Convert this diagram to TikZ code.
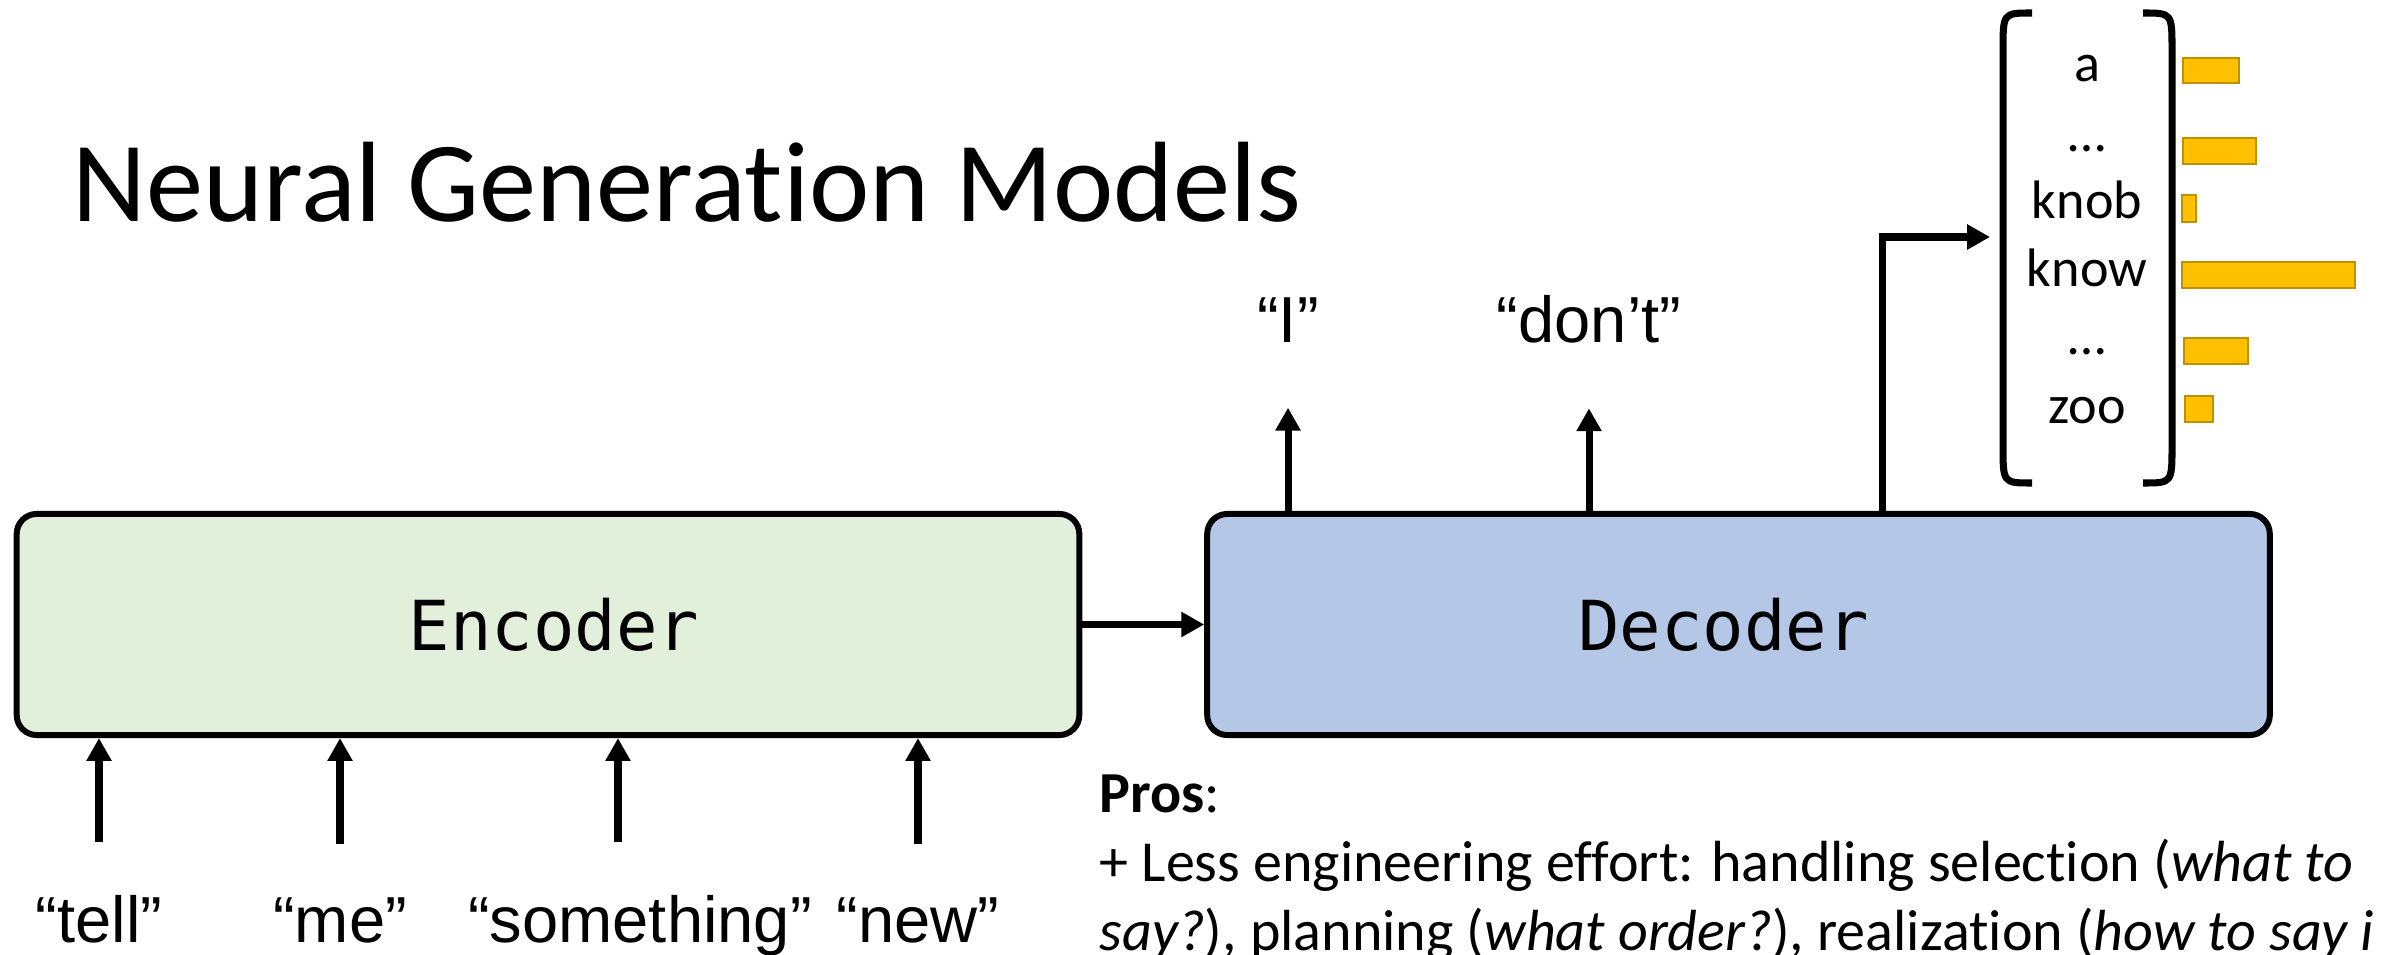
\documentclass[tikz,border=0pt]{standalone}
\usepackage{fontspec}
\setmainfont{Carlito}[Ligatures=NoCommon]
\setmonofont{DejaVu Sans Mono}
\newfontfamily\arialfont{Liberation Sans}
\usetikzlibrary{arrows.meta}
\definecolor{encGreen}{HTML}{E2EFDA}
\definecolor{decBlue}{HTML}{B4C7E7}
\definecolor{barGold}{HTML}{FFC000}
\definecolor{barEdge}{HTML}{BF9000}

\begin{document}
\begin{tikzpicture}[x=0.01cm, y=-0.01cm,
	box/.style={rectangle, rounded corners=0.2cm, draw=black, line width=1.7pt, minimum width=10.62cm, minimum height=2.21cm, font=\fontsize{19.6}{23}\selectfont\ttfamily},
	arr/.style={line width=2pt, -{Triangle[length=6.5pt,width=6.8pt]}},
	quote/.style={inner sep=0pt, anchor=base, font=\fontsize{18.5}{22}\selectfont\arialfont},
	vocabWord/.style={inner sep=0pt, anchor=base, font=\fontsize{15.4}{18}\selectfont},
	prosLine/.style={inner sep=0pt, anchor=base west, font=\fontsize{16.5}{19.6}\selectfont},
	bar/.style={fill=barGold, draw=barEdge, line width=0.6pt},
	paren/.style={line width=2pt}]
	\useasboundingbox (0,0) rectangle (2382,955);
	\clip (0,0) rectangle (2382,955);

	\node[inner sep=0pt, anchor=base west, font=\fontsize{32.5}{39}\selectfont](title) at (72,222){Neural Generation Models};

	\node[box, fill=encGreen](encBox) at (548,624.5){\hspace*{0.12cm}Encoder};
	\node[box, fill=decBlue](decBox) at (1738.5,624.5){Decoder\hspace*{0.3cm}};
	\draw[arr] (encBox.east) -- (decBox.west);

	% input words (the arrow may sit a bit off the word's middle)
	\foreach \w/\x/\dx in {tell/99/0, me/340/0, something/640/-0.22, new/918/0}{
		\node[quote](\w) at (\x,942){“\w”};
		\draw[arr] ([xshift=\dx cm, yshift=14.8pt]\w.north) -- ([xshift=\dx cm]\w.north |- encBox.south);
	}

	% output words
	\node[quote](wI)    at (1288,343){“I”};
	\node[quote](wDont) at (1589,343){“don’t”};
	\draw[arr] (decBox.north -| wI) -- ([yshift=-18.2pt]wI.south);
	\draw[arr] (decBox.north -| wDont) -- ([yshift=-18.2pt]wDont.south);

	% distribution over the vocabulary
	\coordinate (vocabIn) at (1990,237);
	\draw[arr] ([xshift=1.435cm]decBox.north) |- (vocabIn);
	\draw[paren] (2032,13) .. controls (2003,13) .. (2003,50) -- (2003,446) .. controls (2003,483) .. (2032,483);
	\draw[paren] (2143,13) .. controls (2172,13) .. (2172,50) -- (2172,446) .. controls (2172,483) .. (2143,483);
	\foreach \w/\y [count=\i] in {a/82, …/152, knob/219, know/287, …/355, zoo/423}{
		\node[vocabWord](word\i) at (2087,\y){\w};
	}
	\foreach \xa/\ya/\xb/\yb in {2183/58/2239/83, 2183/138/2256/164, 2182/195/2196/222, 2182/262/2355/288, 2184/338/2248/364, 2185/396/2213/422}{
		\draw[bar] (\xa,\ya) rectangle (\xb,\yb);
	}

	% pros
	\node[prosLine](pros1) at (1099,812){\textbf{Pros}:};
	\node[prosLine](pros2) at (1099,881){+ Less engineering effort: handling selection (\textit{what to}};
	\node[prosLine](pros3) at (1099,950){\textit{say?}), planning (\textit{what order?}), realization (\textit{how to say i}};
\end{tikzpicture}
\end{document}
